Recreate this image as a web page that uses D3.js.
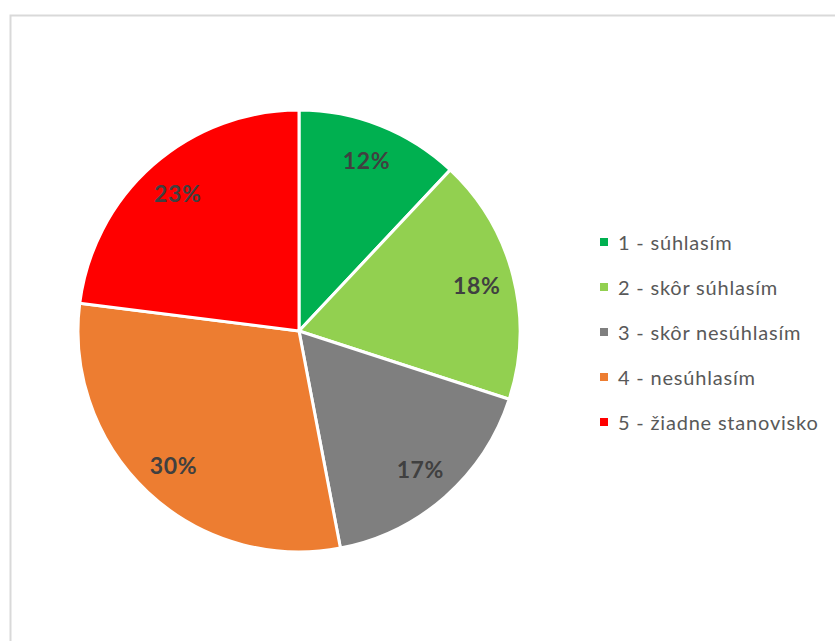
<!DOCTYPE html>
<html>
<head>
<meta charset="utf-8">
<script src="https://cdn.jsdelivr.net/npm/d3@7"></script>
<style>
  html, body { margin: 0; padding: 0; background: #fff; }
  svg { display: block; }
</style>
</head>
<body>
<svg id="chart" width="835" height="641"></svg>
<script>
// Survey answers and their shares (percent)
const categories = ["1 - súhlasím", "2 - skôr súhlasím", "3 - skôr nesúhlasím", "4 - nesúhlasím", "5 - žiadne stanovisko"];
const values = [12, 18, 17, 30, 23];
const colors = ["#00b050", "#92d050", "#7f7f7f", "#ed7d31", "#ff0000"];

const svg = d3.select("#chart");
const W = 835, H = 641;

// chart area frame
svg.append("rect")
  .attr("x", 10.5).attr("y", 15.5)
  .attr("width", W).attr("height", H)
  .attr("fill", "#fff").attr("stroke", "#d9d9d9").attr("stroke-width", 2);

const cx = 299, cy = 331, R = 221;

const data = categories.map((c, i) => ({ name: c, value: values[i], color: colors[i] }));

const pie = d3.pie().value(d => d.value).sort(null);
const arc = d3.arc().innerRadius(0).outerRadius(R);
const labelArc = d3.arc().innerRadius(R * 0.83).outerRadius(R * 0.83);

const g = svg.append("g").attr("transform", `translate(${cx},${cy})`);
const arcs = pie(data);

g.selectAll("path.slice")
  .data(arcs)
  .join("path")
  .attr("class", "slice")
  .attr("d", arc)
  .attr("fill", d => d.data.color)
  .attr("stroke", "#fff")
  .attr("stroke-width", 3)
  .attr("stroke-linejoin", "round");

g.selectAll("text.pct")
  .data(arcs)
  .join("text")
  .attr("class", "pct")
  .attr("transform", d => `translate(${labelArc.centroid(d)})`)
  .attr("text-anchor", "middle")
  .attr("dominant-baseline", "central")
  .attr("font-family", "Lato, 'Open Sans', sans-serif")
  .attr("font-weight", "bold")
  .attr("font-size", 23)
  .attr("letter-spacing", 0.6)
  .attr("fill", "#404040")
  .text(d => d.data.value + "%");

// legend
const legend = svg.append("g").attr("transform", "translate(600,242)");
const rowH = 45;
const items = legend.selectAll("g.item")
  .data(data)
  .join("g")
  .attr("class", "item")
  .attr("transform", (d, i) => `translate(0,${i * rowH})`);

items.append("rect")
  .attr("x", 0).attr("y", -4)
  .attr("width", 8).attr("height", 8)
  .attr("fill", d => d.color);

items.append("text")
  .attr("x", 18).attr("y", 0)
  .attr("dominant-baseline", "central")
  .attr("font-family", "Lato, 'Open Sans', sans-serif")
  .attr("font-size", 20)
  .attr("letter-spacing", 0.8)
  .attr("fill", "#595959")
  .text(d => d.name);
</script>
</body>
</html>
